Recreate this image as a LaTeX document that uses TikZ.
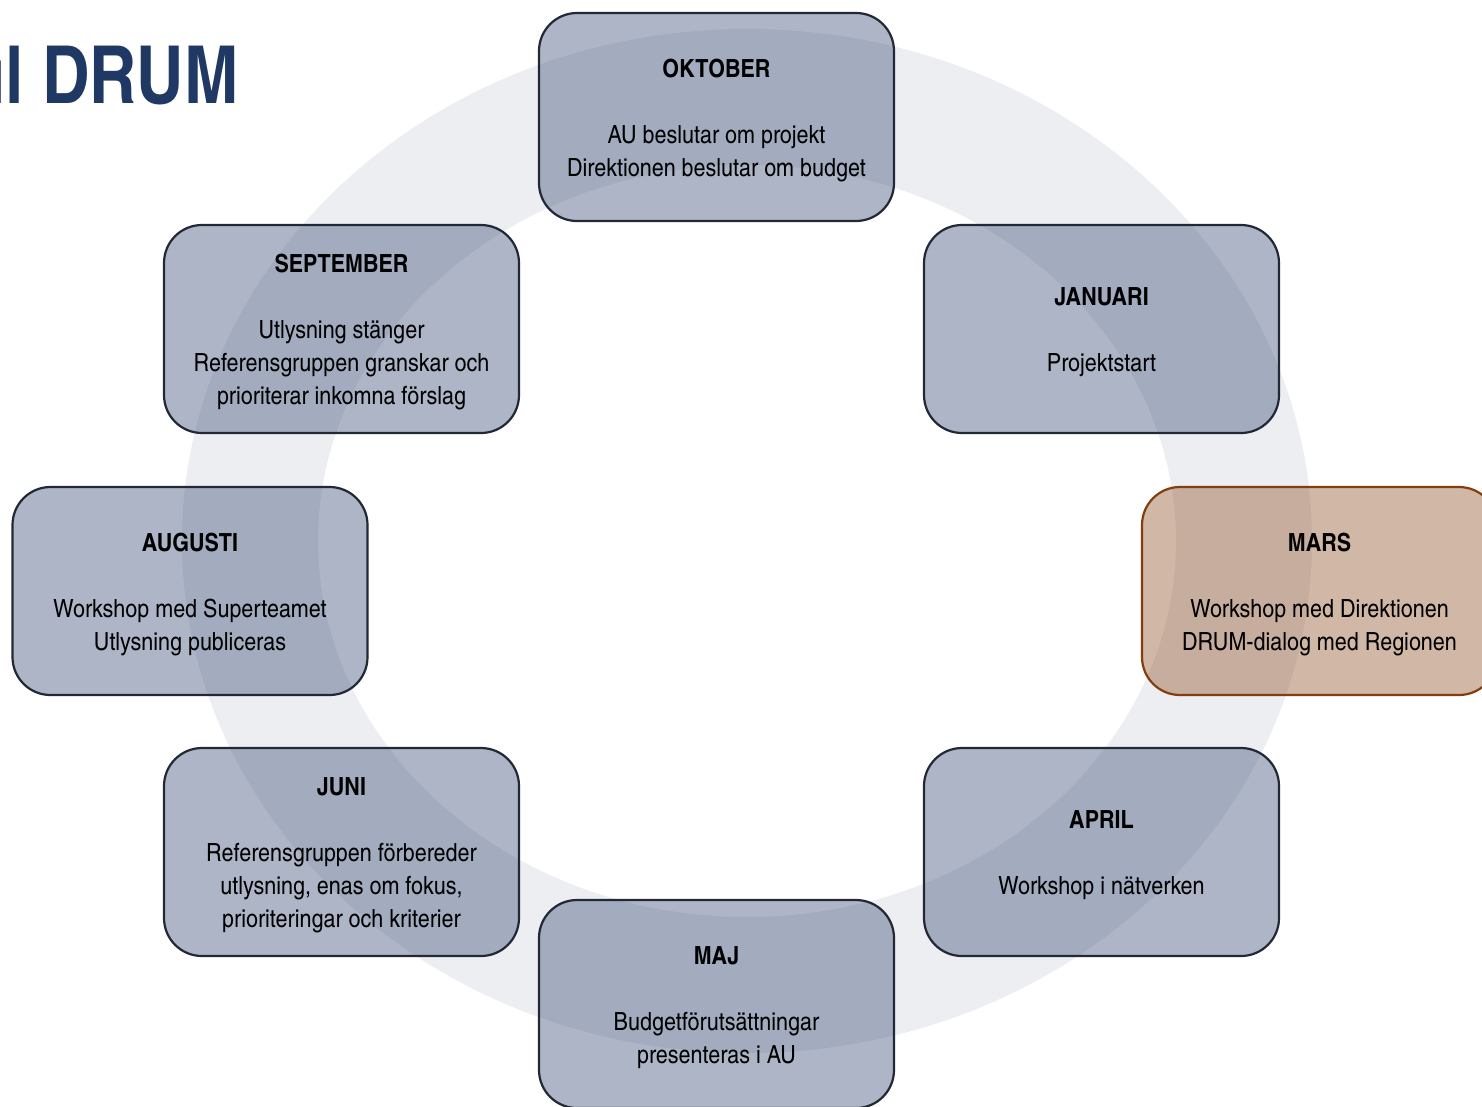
\documentclass[tikz,border=0pt]{standalone}
\usepackage{fontspec}
\setmainfont{texgyreheroscn}[Extension=.otf, UprightFont=*-regular, BoldFont=*-bold, FakeStretch=1.05]
\newfontfamily\titlefont{texgyreheroscn}[Extension=.otf, UprightFont=*-bold]
\definecolor{ringc}{RGB}{237,238,242}
\definecolor{boxc}{RGB}{52,72,115}
\definecolor{boxline}{RGB}{34,40,52}
\definecolor{marsc}{RGB}{142,77,32}
\definecolor{marsline}{RGB}{132,62,14}
\definecolor{titlec}{RGB}{31,56,100}
\tikzset{
  mbox/.style={draw=boxline, line width=2.2pt, fill=boxc, fill opacity=0.4, draw opacity=1,
    rounded corners=38pt, minimum width=355pt, minimum height=208pt, inner sep=0pt},
  marsbox/.style={mbox, draw=marsline, fill=marsc},
  mtext/.style={align=center, font=\fontsize{25}{33}\selectfont, inner sep=0pt, text=black},
}
\newcommand{\mhead}[1]{\textbf{#1}\\[33pt]}
\begin{document}
\begin{tikzpicture}[x=1pt,y=-1pt]
\useasboundingbox (0,0) rectangle (1482,1106);
\clip (0,0) rectangle (1482,1106);
\fill[white] (0,0) rectangle (1482,1106);
% ring
\fill[ringc, even odd rule] (747,541) ellipse [x radius=565pt, y radius=512pt]
  (747,541) ellipse [x radius=429pt, y radius=376pt];
% title
\node[anchor=base east, text=titlec, font=\fontsize{80}{80}\selectfont\titlefont, inner sep=0pt] (title) at (239,103) {ul DRUM};
% boxes
\node[mbox] (okt) at (716.5,117) {};
\node[mbox] (jan) at (1101.5,329) {};
\node[marsbox] (mar) at (1319.5,591) {};
\node[mbox] (apr) at (1101.5,852) {};
\node[mbox] (maj) at (716.5,1004) {};
\node[mbox] (jun) at (341.5,852) {};
\node[mbox] (aug) at (190,591) {};
\node[mbox] (sep) at (341.5,329) {};
% texts
\node[mtext] (okt-t) at ([yshift=-3.5pt]okt.center) {\mhead{OKTOBER}AU beslutar om projekt\\Direktionen beslutar om budget};
\node[mtext] (jan-t) at ([yshift=-3.5pt]jan.center) {\mhead{JANUARI}Projektstart};
\node[mtext] (mar-t) at ([yshift=-3.5pt]mar.center) {\mhead{MARS}Workshop med Direktionen\\DRUM-dialog med Regionen};
\node[mtext] (apr-t) at ([yshift=-3.5pt]apr.center) {\mhead{APRIL}Workshop i nätverken};
\node[mtext] (maj-t) at ([yshift=-3.5pt]maj.center) {\mhead{MAJ}Budgetförutsättningar\\presenteras i AU};
\node[mtext] (jun-t) at ([yshift=-3.5pt]jun.center) {\mhead{JUNI}Referensgruppen förbereder\\utlysning, enas om fokus,\\prioriteringar och kriterier};
\node[mtext] (aug-t) at ([yshift=-3.5pt]aug.center) {\mhead{AUGUSTI}Workshop med Superteamet\\Utlysning publiceras};
\node[mtext] (sep-t) at ([yshift=-3.5pt]sep.center) {\mhead{SEPTEMBER}Utlysning stänger\\Referensgruppen granskar och\\prioriterar inkomna förslag};
\end{tikzpicture}
\end{document}
